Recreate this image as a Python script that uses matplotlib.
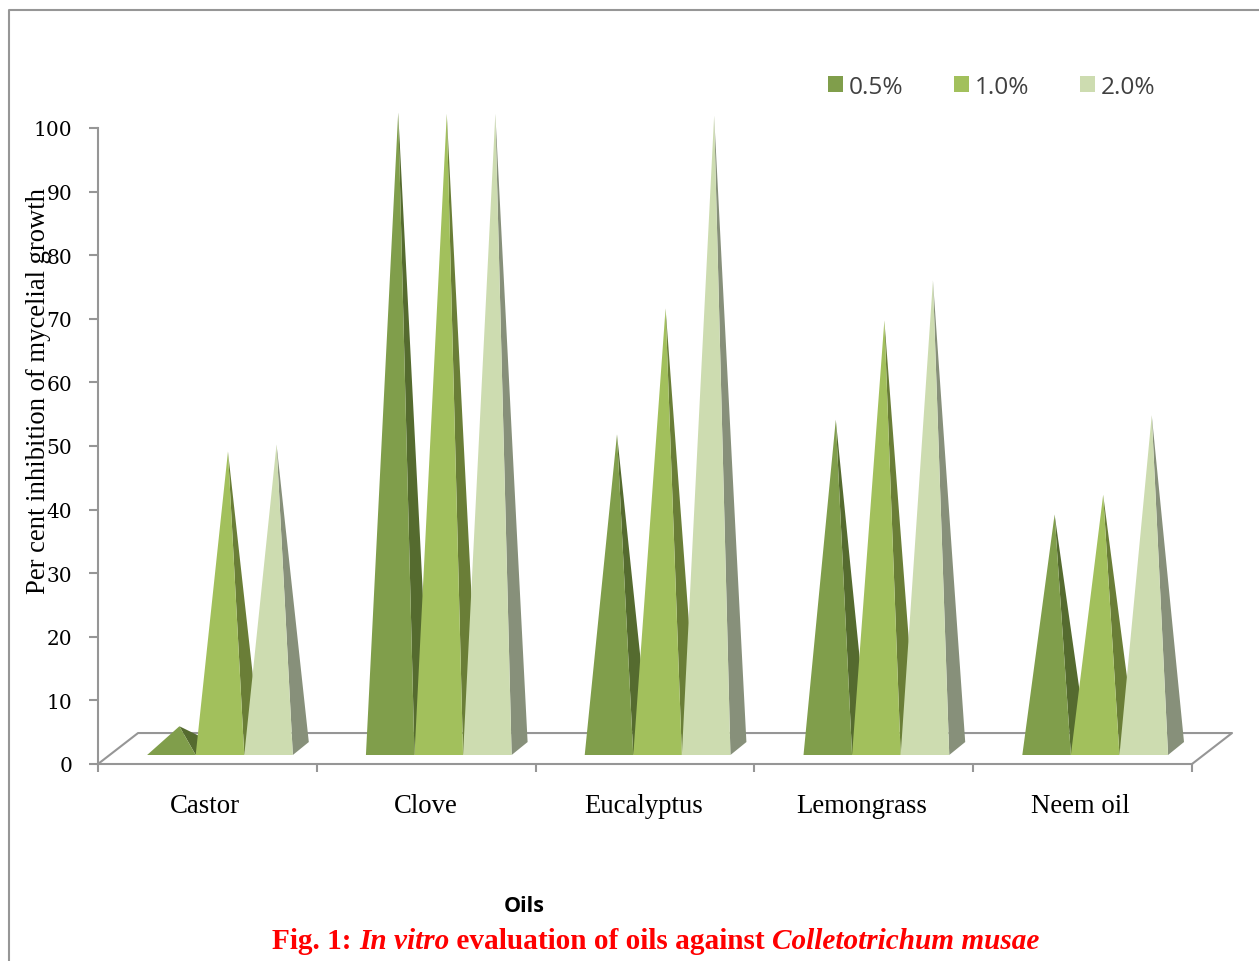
import matplotlib
matplotlib.use('Agg')
import matplotlib.pyplot as plt
from matplotlib.patches import Polygon, Patch
from matplotlib.lines import Line2D

# values
oils = ['Castor', 'Clove', 'Eucalyptus', 'Lemongrass', 'Neem oil']
conc = ['0.5%', '1.0%', '2.0%']
v05 = [3.5, 100, 49.4, 51.7, 36.8]
v10 = [46.7, 99.8, 69.2, 67.3, 39.9]
v20 = [47.8, 99.8, 99.5, 73.6, 52.4]
yticks = list(range(0, 101, 10))

front = ['#809E4B', '#A2C05C', '#CDDCB0']
side = ['#556B2F', '#6A7E37', '#87907A']
grey = '#969696'

W, H = 1259, 962
fig = plt.figure(figsize=(W / 100, H / 100), dpi=100)
ax = fig.add_axes([98 / W, (H - 765) / H, 1094 / W, 636 / H])
ax.set_xlim(-0.5, 4.5)
ax.set_ylim(0, 100)

# fake 3d depth, in data units
base = 1.415
bw = 0.222
dx, dy = 0.073, 2.04
off = 0.0575

# floor of the chart
ax.plot([-0.5, -0.317, 4.683, 4.5], [0, 4.87, 4.87, 0], color=grey, lw=1.5,
        clip_on=False, zorder=1)

for i in range(len(oils)):
    for j, vals in enumerate([v05, v10, v20]):
        xl = i + off + (j - 1.5) * bw
        xr = xl + bw
        apex = (xl + bw / 2 + dx / 2, vals[i] + base + dy / 2)
        ax.add_patch(Polygon([(xr, base), (xr + dx, base + dy), apex], fc=side[j], ec='none',
                             clip_on=False, zorder=2))
        ax.add_patch(Polygon([(xl, base), (xr, base), apex], fc=front[j], ec='none',
                             clip_on=False, zorder=2))

for s in ['top', 'right']:
    ax.spines[s].set_visible(False)
for s in ['left', 'bottom']:
    ax.spines[s].set_color(grey)
    ax.spines[s].set_linewidth(1.5)

ax.set_yticks(yticks)
ax.tick_params(axis='y', length=6.5, width=1.5, color=grey, pad=12)
for t in ax.get_yticklabels():
    t.set_fontfamily('DejaVu Serif')
    t.set_fontsize(14.5)

ax.set_xticks([-0.5, 0.5, 1.5, 2.5, 3.5, 4.5])
ax.set_xticklabels([])
ax.tick_params(axis='x', length=6, width=1.5, color=grey)
ax.set_xticks([-0.01, 1.0, 1.995, 2.99, 3.99], minor=True)
ax.set_xticklabels(oils, minor=True, fontfamily='Liberation Serif', fontsize=19.3)
ax.tick_params(axis='x', which='minor', length=0, pad=21)

ax.set_ylabel('Per cent inhibition of mycelial growth', fontfamily='Liberation Serif', fontsize=19.2)
ax.yaxis.set_label_coords(-0.043, 0.588)
ax.set_xlabel('Oils', fontfamily='Open Sans', fontweight='bold', fontsize=15.5, x=0.39, labelpad=55)

handles = [Patch(fc=c, ec='none') for c in front]
fig.legend(handles, conc, ncol=3, frameon=False, loc='center left',
           bbox_to_anchor=(821 / W, (H - 88) / H), prop={'family': 'Open Sans', 'size': 17.6},
           labelcolor='#404040', handlelength=0.62, handleheight=0.62, handletextpad=0.22,
           columnspacing=2.08, borderpad=0.3, borderaxespad=0)

# caption in red, mixed upright and italic
parts = [('Fig. 1: ', 'normal'), ('In vitro', 'italic'), (' evaluation of oils against ', 'normal'),
         ('Colletotrichum musae', 'italic')]
prev = fig.text(272 / W, (H - 949) / H, parts[0][0], color='red', fontfamily='Liberation Serif',
                fontweight='bold', style=parts[0][1], fontsize=21.1)
for txt, st in parts[1:]:
    prev = ax.annotate(txt, xy=(1, 0), xycoords=prev, va='bottom', ha='left', color='red',
                       fontfamily='Liberation Serif', fontweight='bold', style=st, fontsize=21.1,
                       annotation_clip=False)

# outer frame of the pasted figure
fig.add_artist(Line2D([9 / W, 9 / W, 1], [0, (H - 11) / H, (H - 11) / H], color=grey, lw=1.5))

fig.savefig('out.png', dpi=100)
